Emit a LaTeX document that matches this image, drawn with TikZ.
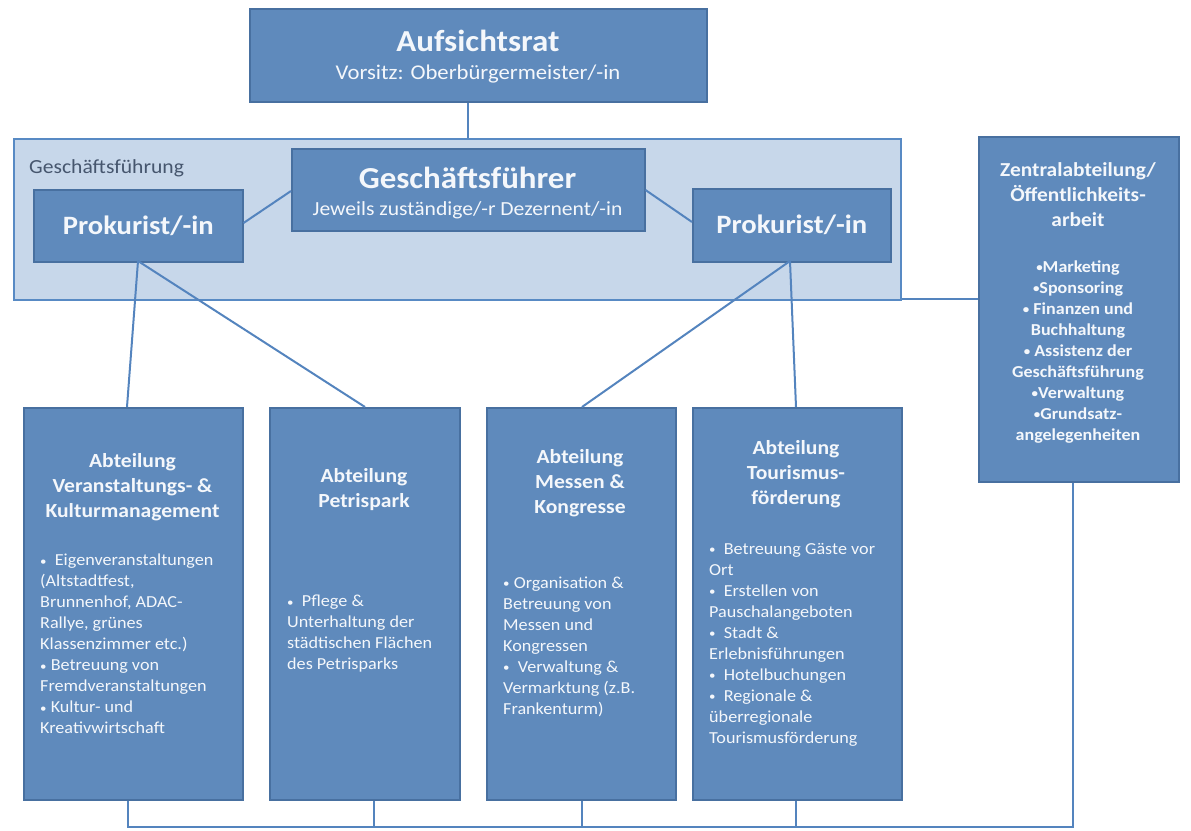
\documentclass[tikz,border=0pt]{standalone}
\usepackage{fontspec}
\setmainfont{Carlito}[FakeStretch=1.08]
\definecolor{boxfill}{RGB}{95,138,188}
\definecolor{boxline}{RGB}{72,112,160}
\definecolor{areafill}{RGB}{199,215,234}
\definecolor{arealine}{RGB}{88,138,196}
\definecolor{conn}{RGB}{84,132,190}
\definecolor{txt}{RGB}{244,247,251}
\definecolor{labeltxt}{RGB}{70,86,110}
\newcommand{\bul}{{\fontsize{12}{12}\selectfont\raisebox{0.12ex}{•}}}
\tikzset{
  box/.style={draw=boxline, line width=1.5pt, fill=boxfill, inner sep=0pt, anchor=north west},
  area/.style={draw=arealine, line width=2pt, fill=areafill, inner sep=0pt, anchor=north west},
  conline/.style={draw=conn, line width=2pt},
  head/.style={text=txt, font=\bfseries\fontsize{20}{25}\selectfont, align=center, inner sep=0pt},
  body/.style={text=txt, font=\fontsize{16.8}{21}\selectfont, align=left, inner sep=0pt, anchor=west},
  zbody/.style={text=txt, font=\bfseries\fontsize{16.7}{21}\selectfont, align=center, inner sep=0pt},
}
\begin{document}
\begin{tikzpicture}[x=1pt,y=-1pt]
\useasboundingbox (0,0) rectangle (1191,830);
% areas and boxes
\node[area, minimum width=887pt, minimum height=161pt] (gfarea) at (13,138) {};
\node[box, minimum width=457pt, minimum height=93pt] (auf) at (249,8) {};
\node[box, minimum width=353pt, minimum height=82pt] (gf) at (291,148) {};
\node[box, minimum width=209pt, minimum height=72pt] (pl) at (33,189) {};
\node[box, minimum width=198pt, minimum height=73pt] (pr) at (692,188) {};
\node[box, minimum width=200pt, minimum height=345pt] (zen) at (978,136) {};
\node[box, minimum width=219pt, minimum height=392pt] (b1) at (23,407) {};
\node[box, minimum width=190pt, minimum height=392pt] (b2) at (269,407) {};
\node[box, minimum width=189pt, minimum height=392pt] (b3) at (486,407) {};
\node[box, minimum width=209pt, minimum height=392pt] (b4) at (692,407) {};
% connectors
\draw[conline] (auf.south -| gf.north) -- (gfarea.north -| gf.north);
\draw[conline] (pl.east |- 0,223) -- (gf.west |- 0,191);
\draw[conline] (gf.east |- 0,190) -- (pr.west |- 0,222);
\coordinate (plb) at (138,261);
\coordinate (prb) at (790,261);
\draw[conline] (plb) -- (b1.north -| 127,0);
\draw[conline] (plb) -- (b2.north -| 365,0);
\draw[conline] (prb) -- (b3.north -| 582,0);
\draw[conline] (prb) -- (b4.north -| 796,0);
\draw[conline] (gfarea.east |- 0,299) -- (zen.west |- 0,299);
\coordinate (bl) at (128,827);
\coordinate (br) at (1073,827);
\draw[conline] (b1.south -| bl) -- (bl) -- (br) -- (zen.south -| br);
\draw[conline] (b2.south -| 374,0) -- (374,827);
\draw[conline] (b3.south -| 582,0) -- (582,827);
\draw[conline] (b4.south -| 796,0) -- (796,827);
% texts
\node[text=txt, font=\bfseries\fontsize{30.5}{32}\selectfont, inner sep=0pt] (auft) at (478,41) {Aufsichtsrat};
\node[text=txt, font=\fontsize{21}{24}\selectfont, inner sep=0pt] (aufs) at (478,74) {Vorsitz: Oberbürgermeister/-in};
\node[text=labeltxt, font=\fontsize{20}{22}\selectfont, inner sep=0pt, anchor=west] (gflabel) at (29,168) {Geschäftsführung};
\node[text=txt, font=\bfseries\fontsize{30.5}{32}\selectfont, inner sep=0pt] (gft) at (467.5,178) {Geschäftsführer};
\node[text=txt, font=\fontsize{20}{22}\selectfont, inner sep=0pt] (gfs) at (467.5,210) {Jeweils zuständige/-r Dezernent/-in};
\node[text=txt, font=\bfseries\fontsize{26.5}{28}\selectfont, inner sep=0pt] (plt) at (pl.center) {Prokurist/-in};
\node[text=txt, font=\bfseries\fontsize{26.5}{28}\selectfont, inner sep=0pt] (prt) at (pr.center) {Prokurist/-in};
\node[head, font=\bfseries\fontsize{19.8}{25}\selectfont] (zent) at (1078,195) {Zentralabteilung/\\Öffentlichkeits-\\arbeit};
\node[zbody] (zenb) at (1078,352) {\bul Marketing\\\bul Sponsoring\\\bul\ Finanzen und\\Buchhaltung\\\bul\ Assistenz der\\Geschäftsführung\\\bul Verwaltung\\\bul Grundsatz-\\angelegenheiten};
\node[head] (b1t) at (132.5,487) {Abteilung\\Veranstaltungs- \&\\Kulturmanagement};
\node[body] (b1b) at (40,644) {\bul\ \ Eigenveranstaltungen\\(Altstadtfest,\\Brunnenhof, ADAC-\\Rallye, grünes\\Klassenzimmer etc.)\\\bul\ Betreuung von\\Fremdveranstaltungen\\\bul\ Kultur- und\\Kreativwirtschaft};
\node[head] (b2t) at (364,490) {Abteilung\\Petrispark};
\node[body] (b2b) at (287,634) {\bul\ \ Pflege \&\\Unterhaltung der\\städtischen Flächen\\des Petrisparks};
\node[head] (b3t) at (580,483) {Abteilung\\Messen \&\\Kongresse};
\node[body] (b3b) at (503,647) {\bul\ Organisation \&\\Betreuung von\\Messen und\\Kongressen\\\bul\ \ Verwaltung \&\\Vermarktung (z.B.\\Frankenturm)};
\node[head] (b4t) at (796,474) {Abteilung\\Tourismus-\\förderung};
\node[body] (b4b) at (709,645) {\bul\ \ Betreuung Gäste vor\\Ort\\\bul\ \ Erstellen von\\Pauschalangeboten\\\bul\ \ Stadt \&\\Erlebnisführungen\\\bul\ \ Hotelbuchungen\\\bul\ \ Regionale \&\\überregionale\\Tourismusförderung};
\end{tikzpicture}
\end{document}
